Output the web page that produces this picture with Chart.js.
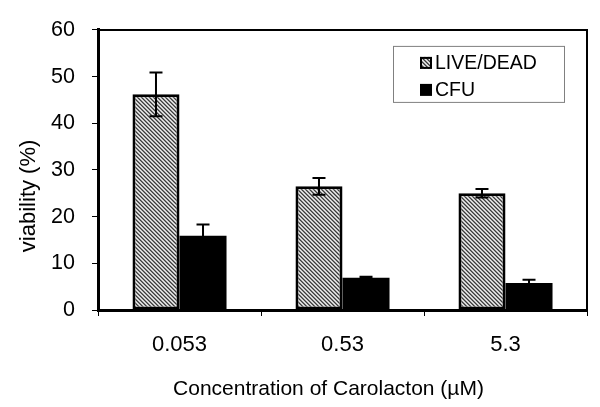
<!DOCTYPE html>
<html>
<head>
<meta charset="utf-8">
<script src="https://cdn.jsdelivr.net/npm/chart.js@4.4.0/dist/chart.umd.min.js"></script>
<style>
html,body{margin:0;padding:0;background:#fff;}
#wrap{width:600px;height:407px;position:relative;}
</style>
</head>
<body>
<div id="wrap"><canvas id="c" width="600" height="407"></canvas></div>
<script>
// ---- data ----
const categories = ['0.053', '0.53', '5.3'];
const liveDeadValues = [46.2, 26.5, 25.0];
const liveDeadErrors = [4.7, 1.8, 0.9];
const cfuValues = [15.9, 6.9, 5.8];
const cfuErrors = [2.4, 0.2, 0.7];
const seriesNames = ['LIVE/DEAD', 'CFU'];
const yTicks = [0, 10, 20, 30, 40, 50, 60];
const xTitle = 'Concentration of Carolacton (\u00b5M)';
const yTitle = 'viability (%)';

const FONT = "'Liberation Sans', Arial, sans-serif";

function makeHatch() {
  const n = 4;
  const shades = [60, 130, 235, 190];
  const c = document.createElement('canvas');
  c.width = n; c.height = n;
  const ctx = c.getContext('2d');
  const img = ctx.createImageData(n, n);
  for (let y = 0; y < n; y++) {
    for (let x = 0; x < n; x++) {
      const i = (y * n + x) * 4;
      const k = ((x - y) % n + n) % n;
      const v = shades[k];
      img.data[i] = v; img.data[i+1] = v; img.data[i+2] = v; img.data[i+3] = 255;
    }
  }
  ctx.putImageData(img, 0, 0);
  return document.getElementById('c').getContext('2d').createPattern(c, 'repeat');
}
const hatch = makeHatch();

const errorArrays = [liveDeadErrors, cfuErrors];

const errorBarPlugin = {
  id: 'errorBars',
  afterDatasetsDraw(chart) {
    const ctx = chart.ctx;
    const ys = chart.scales.y;
    ctx.save();
    ctx.strokeStyle = '#000';
    ctx.lineWidth = 2;
    chart.data.datasets.forEach((ds, di) => {
      const meta = chart.getDatasetMeta(di);
      meta.data.forEach((el, i) => {
        const v = ds.data[i], e = errorArrays[di][i];
        const yt = ys.getPixelForValue(v + e);
        const yb = ys.getPixelForValue(v - e);
        const x = el.x;
        const cap = 6.5;
        ctx.beginPath();
        ctx.moveTo(x, yt); ctx.lineTo(x, yb);
        ctx.moveTo(x - cap, yt); ctx.lineTo(x + cap, yt);
        ctx.moveTo(x - cap, yb); ctx.lineTo(x + cap, yb);
        ctx.stroke();
      });
    });
    ctx.restore();
  }
};

const framePlugin = {
  id: 'frameAndLegend',
  afterDraw(chart) {
    const ctx = chart.ctx;
    const a = chart.chartArea;
    ctx.save();
    // top and right frame
    ctx.strokeStyle = '#000';
    ctx.lineWidth = 2;
    ctx.beginPath();
    ctx.moveTo(a.left, a.top);
    ctx.lineTo(a.right, a.top);
    ctx.lineTo(a.right, a.bottom);
    ctx.stroke();

    // legend
    const bx = a.right - 194, by = a.top + 16, bw = 171, bh = 56;
    ctx.strokeStyle = '#808080';
    ctx.lineWidth = 1;
    ctx.strokeRect(bx + 0.5, by + 0.5, bw, bh);
    ctx.font = '19.5px ' + FONT;
    ctx.textBaseline = 'middle';
    ctx.fillStyle = '#000';
    const rows = [by + 17, by + 44];
    // marker 1
    ctx.fillStyle = hatch;
    ctx.fillRect(bx + 27, rows[0] - 6, 12, 12);
    ctx.strokeStyle = '#000';
    ctx.lineWidth = 2;
    ctx.strokeRect(bx + 28, rows[0] - 5, 10, 10);
    ctx.fillStyle = '#000';
    ctx.fillText(seriesNames[0], bx + 42, rows[0] + 1);
    // marker 2
    ctx.fillRect(bx + 27, rows[1] - 6, 12, 12);
    ctx.fillText(seriesNames[1], bx + 42, rows[1] + 1);

    // x title
    ctx.textAlign = 'center';
    ctx.font = '21px ' + FONT;
    ctx.fillText(xTitle, 328.5, 389);

    // y title
    ctx.translate(29, a.top + 166);
    ctx.rotate(-Math.PI / 2);
    ctx.font = '22px ' + FONT;
    ctx.fillText(yTitle, 0, 0);
    ctx.restore();
  }
};

new Chart(document.getElementById('c'), {
  type: 'bar',
  data: {
    labels: categories,
    datasets: [
      {
        label: seriesNames[0],
        data: liveDeadValues,
        backgroundColor: hatch,
        borderColor: '#000',
        borderWidth: 3,
        borderSkipped: false,
        categoryPercentage: 0.577,
        barPercentage: 1.0
      },
      {
        label: seriesNames[1],
        data: cfuValues,
        backgroundColor: '#000',
        borderColor: '#000',
        borderWidth: 0,
        categoryPercentage: 0.577,
        barPercentage: 1.0
      }
    ]
  },
  options: {
    responsive: false,
    animation: false,
    devicePixelRatio: 1,
    layout: { padding: { left: 0, right: 13, top: 17, bottom: 0 } },
    plugins: {
      legend: { display: false },
      tooltip: { enabled: false }
    },
    scales: {
      x: {
        offset: true,
        grid: { display: true, drawOnChartArea: false, offset: true, tickLength: 6, color: '#000', lineWidth: 1 },
        border: { display: true, color: '#000', width: 3 },
        ticks: { color: '#000', font: { family: FONT, size: 22 }, padding: 16 },
        title: { display: false },
        afterFit(scale) { scale.height = 97; }
      },
      y: {
        min: 0, max: 60,
        afterBuildTicks(scale) { scale.ticks = yTicks.map(v => ({ value: v })); },
        grid: { display: true, drawOnChartArea: false, tickLength: 6, color: '#000', lineWidth: 1 },
        border: { display: true, color: '#000', width: 3 },
        ticks: { color: '#000', font: { family: FONT, size: 21.5 }, padding: 17 },
        afterFit(scale) { scale.width = 98; }
      }
    }
  },
  plugins: [errorBarPlugin, framePlugin]
});
</script>
</body>
</html>
